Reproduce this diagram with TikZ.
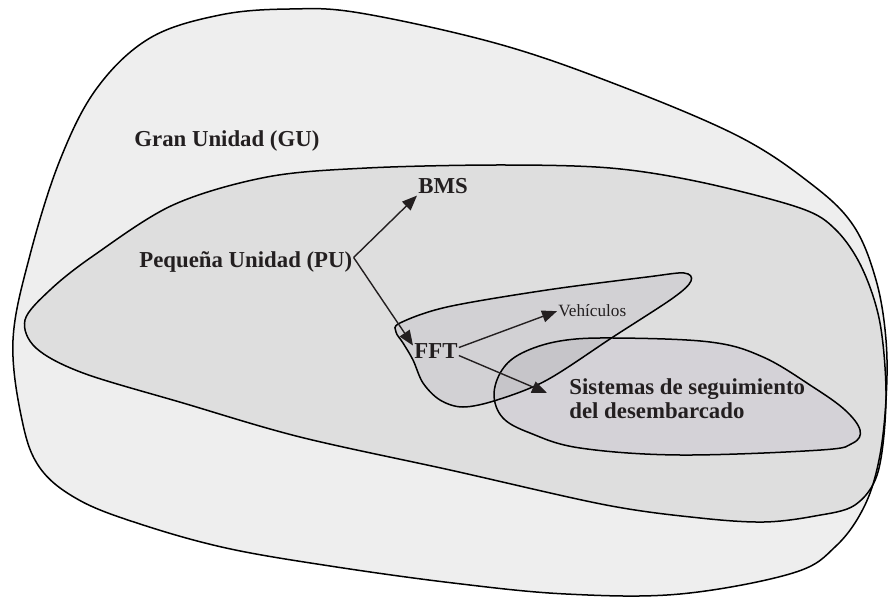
\documentclass[tikz,border=0pt]{standalone}
\usepackage{fontspec}
\setmainfont{Liberation Serif}
\usetikzlibrary{arrows.meta}
\definecolor{gufill}{HTML}{EEEEEE}
\definecolor{pufill}{HTML}{DEDEDE}
\definecolor{vehfill}{HTML}{D2D1D4}
\definecolor{sisfill}{HTML}{D4D2D7}
\definecolor{ovfill}{HTML}{C6C5C9}
\definecolor{ink}{HTML}{231F20}
\tikzset{
  blob/.style={draw=black, line width=0.75pt},
  lbl/.style={font=\fontsize{11.4}{12}\selectfont\bfseries, text=ink, inner sep=0.5pt, anchor=base west},
  smalllbl/.style={font=\fontsize{8.6}{10}\selectfont, text=ink, inner sep=0.5pt, anchor=base west},
  arr/.style={draw=ink, line width=0.7pt, -{Triangle[length=7.5pt,width=6pt]}},
}
\begin{document}
\begin{tikzpicture}[x=0.5pt,y=-0.5pt]
\useasboundingbox (0,0) rectangle (888,598);
\def\gupath{plot[smooth cycle, tension=0.6] coordinates {(13,340) (30,255) (60,160) (97,88) (150,38) (220,15) (290,9) (360,13) (495,43) (610,82) (736,135) (810,183) (853,225) (876,280) (886,340) (886,400) (879,460) (864,507) (836,546) (793,573) (680,594) (566,594) (453,583) (330,566) (226,548) (140,524) (79,500) (40,468) (22,420)}}
\def\pupath{plot[smooth cycle, tension=0.55] coordinates {(25,320) (50,290) (93,256) (173,205) (267,177) (367,168) (500,165) (610,168) (700,182) (800,208) (836,230) (862,268) (880,323) (886,399) (878,472) (855,505) (815,516) (764,522) (700,518) (606,505) (450,470) (300,437) (183,403) (83,373) (36,348)}}
\def\vehpath{plot[smooth cycle, tension=0.55] coordinates {(400,323) (447,307) (547,290) (647,277) (684,273) (691,281) (673,298) (613,337) (547,380) (497,400) (463,407) (440,400) (423,383) (413,360) (403,343) (396,332)}}
\def\sispath{plot[smooth cycle, tension=0.6] coordinates {(494,395) (502,370) (522,353) (560,341) (613,338) (710,342) (763,357) (813,387) (845,410) (860,430) (853,443) (821,450) (680,455) (580,448) (530,433) (503,418)}}
% fills
\path[fill=gufill] \gupath;
\path[fill=pufill] \pupath;
\path[fill=vehfill] \vehpath;
\path[fill=sisfill] \sispath;
\begin{scope}
  \clip \vehpath;
  \path[fill=ovfill] \sispath;
\end{scope}
% outlines
\draw[blob] \gupath;
\draw[blob] \pupath;
\draw[blob] \vehpath;
\draw[blob] \sispath;
% labels
\node[lbl] (gu) at (133,147) {Gran Unidad (GU)};
\node[lbl] (pu) at (138,268) {Pequeña Unidad (PU)};
\node[lbl] (bms) at (417,194) {BMS};
\node[lbl] (fft) at (413,358) {FFT};
\node[smalllbl] (veh) at (557,317) {Vehículos};
\node[lbl, align=left] (sis) at (568,418) {Sistemas de seguimiento\\del desembarcado};
\coordinate (sisin) at (547,393);
% arrows
\draw[arr] ([yshift=2.5pt]pu.east) -- (bms.south west);
\draw[arr] ([yshift=2.5pt]pu.east) -- ([yshift=2.5pt]fft.west);
\draw[arr] ([yshift=1.5pt]fft.east) -- (veh.west);
\draw[arr] ([yshift=-2.5pt]fft.east) -- (sisin);
\end{tikzpicture}
\end{document}
